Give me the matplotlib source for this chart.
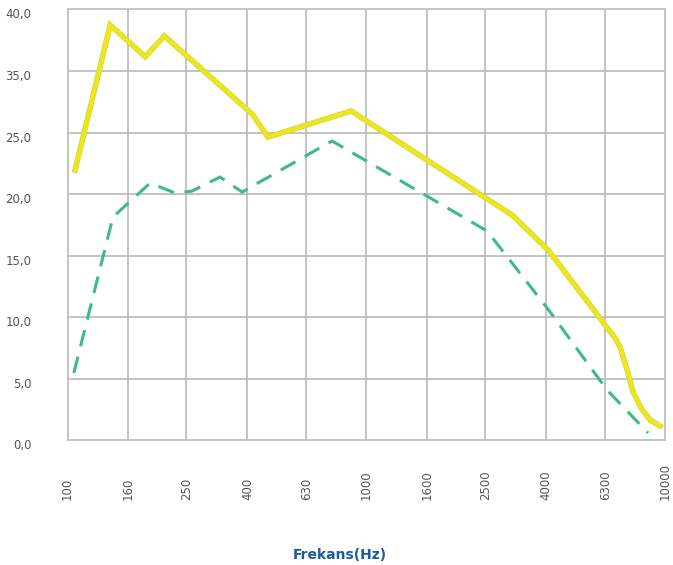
import matplotlib
matplotlib.use('Agg')
from matplotlib import pyplot as plt
from matplotlib import patheffects as pe
from matplotlib.transforms import ScaledTranslation

# frequency bands shown on the axis
tick_freqs = [100, 160, 250, 400, 630, 1000, 1600, 2500, 4000, 6300, 10000]
tick_labels = ['100', '160', '250', '400', '630', '1000', '1600', '2500', '4000', '6300', '10000']

y_ticks = [0, 5, 10, 15, 20, 25, 30, 35]
y_labels = ['0,0', '5,0', '10,0', '15,0', '20,0', '25,0', '35,0', '40,0']

# solid yellow curve
yellow_freq = [106, 139, 182, 211, 415, 469, 889, 3076, 4060, 6800, 7070, 7460, 7810, 8310, 8910, 9620]
yellow_val = [21.95, 33.74, 31.16, 32.85, 26.5, 24.63, 26.75, 18.29, 15.45, 8.29, 7.56, 5.69, 3.90, 2.60, 1.63, 1.14]

# dashed green curve
green_freq = [105, 142, 189, 229, 261, 324, 384, 768, 2537, 4030, 6390, 8770]
green_val = [5.45, 18.13, 20.89, 20.08, 20.24, 21.38, 20.16, 24.31, 16.99, 10.73, 4.07, 0.57]

fig = plt.figure(figsize=(6.73, 5.65), dpi=100)
ax = fig.add_axes([0.1003, 0.2212, 0.888, 0.762])

ax.set_xscale('log')
ax.set_xlim(100, 10000)
ax.set_ylim(0, 35)

ax.plot(green_freq, green_val, color='#3dba89', linewidth=2.2,
        dashes=(5.5, 3.5), zorder=3)
ax.plot(yellow_freq, yellow_val, color='#ebe71c', linewidth=3.2,
        solid_joinstyle='miter', zorder=4,
        path_effects=[pe.Stroke(linewidth=3.9, foreground='#cfcb3c'), pe.Normal()])

ax.set_xticks(tick_freqs)
ax.set_xticklabels(tick_labels, rotation=90, va='bottom', ha='center')
ax.xaxis.set_minor_locator(matplotlib.ticker.NullLocator())
ax.set_yticks(y_ticks)
ax.set_yticklabels(y_labels)

ax.tick_params(axis='x', length=0, pad=43, labelsize=8.5, labelcolor='#555555')
ax.tick_params(axis='y', length=0, pad=26, labelsize=8.5, labelcolor='#555555')
# labels sit a little below their grid lines in the original
for lab in ax.get_yticklabels():
    lab.set_transform(lab.get_transform() + ScaledTranslation(0, -4 / 100, fig.dpi_scale_trans))

ax.grid(True, color='#b9b9b9', linewidth=1.2, zorder=0)
ax.set_axisbelow(True)
for s in ax.spines.values():
    s.set_color('#c4c4c4')
    s.set_linewidth(1.4)

fig.text(340 / 673, 1 - 555 / 565, 'Frekans(Hz)', ha='center', va='center',
         fontsize=10, fontweight='bold', color='#1d5b99')

fig.savefig('out.png', dpi=100)
